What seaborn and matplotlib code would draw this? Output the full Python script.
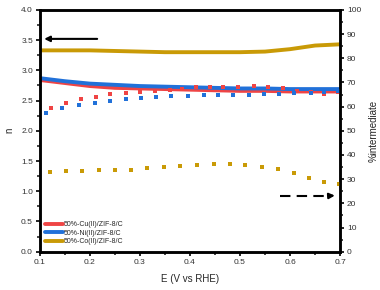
import numpy as np
import pandas as pd
import matplotlib
matplotlib.use("Agg")
import matplotlib.pyplot as plt
import seaborn as sns

# n (left axis, solid lines)
e_line = [0.10, 0.15, 0.20, 0.25, 0.30, 0.35, 0.40, 0.45, 0.50, 0.55, 0.60, 0.65, 0.70]
n_cu = [2.84, 2.79, 2.74, 2.71, 2.70, 2.69, 2.68, 2.67, 2.66, 2.66, 2.65, 2.65, 2.65]
n_ni = [2.87, 2.82, 2.78, 2.76, 2.74, 2.73, 2.72, 2.71, 2.70, 2.70, 2.69, 2.69, 2.69]
n_co = [3.33, 3.33, 3.33, 3.32, 3.31, 3.30, 3.30, 3.30, 3.30, 3.31, 3.35, 3.41, 3.43]

# %intermediate (right axis, dotted)
e_cu = [0.123, 0.153, 0.182, 0.212, 0.241, 0.272, 0.300, 0.330, 0.360, 0.385, 0.412,
        0.439, 0.465, 0.495, 0.527, 0.555, 0.585, 0.613, 0.642, 0.668, 0.696]
p_cu = [59.6, 61.4, 63.0, 64.1, 65.1, 65.5, 65.9, 66.3, 66.8, 67.3, 67.9,
        67.9, 68.0, 68.3, 68.4, 68.0, 67.6, 66.6, 66.1, 65.4, 66.2]
e_ni = [0.113, 0.145, 0.178, 0.210, 0.240, 0.273, 0.303, 0.333, 0.363, 0.397,
        0.427, 0.455, 0.485, 0.517, 0.548, 0.578, 0.608, 0.641, 0.668, 0.695]
p_ni = [57.3, 59.3, 60.6, 61.6, 62.4, 63.0, 63.5, 63.9, 64.3, 64.5,
        64.7, 64.7, 64.8, 65.0, 65.1, 65.4, 65.5, 65.5, 66.0, 66.3]
e_co = [0.120, 0.152, 0.185, 0.218, 0.250, 0.282, 0.315, 0.348, 0.380, 0.413,
        0.447, 0.479, 0.510, 0.543, 0.575, 0.607, 0.637, 0.668, 0.697]
p_co = [33.0, 33.3, 33.3, 33.7, 33.7, 33.9, 34.5, 34.9, 35.5, 35.7,
        36.2, 36.2, 35.7, 35.2, 34.2, 32.4, 30.5, 28.7, 28.1]

labels = ["50%-Cu(II)/ZIF-8/C", "50%-Ni(II)/ZIF-8/C", "50%-Co(II)/ZIF-8/C"]
colors = ["#EF4444", "#2171D9", "#C99A06"]

sns.set_style("ticks")
plt.rcParams['font.family'] = ['Liberation Sans', 'DejaVu Sans']

fig = plt.figure(figsize=(3.8, 2.9), dpi=100)
ax = fig.add_axes([0.105, 0.132, 0.79, 0.834])
ax2 = ax.twinx()

for n_vals, lab, c in zip([n_cu, n_ni, n_co], labels, colors):
    d = pd.DataFrame({"E": e_line, "n": n_vals})
    sns.lineplot(data=d, x="E", y="n", color=c, lw=2.8, ax=ax, label=lab)

# small flat rectangles, like the short dashes in the original
rect = [(-1.3, -1), (1.3, -1), (1.3, 1), (-1.3, 1), (-1.3, -1)]
for ee, pp, c in zip([e_cu, e_ni, e_co], [p_cu, p_ni, p_co], colors):
    d = pd.DataFrame({"E": ee, "p": pp})
    sns.scatterplot(data=d, x="E", y="p", color=c, marker=rect, s=12,
                    linewidth=0, ax=ax2)

# arrows
ax.annotate("", xy=(0.103, 3.52), xytext=(0.22, 3.52),
            arrowprops=dict(arrowstyle="-|>", color="black", lw=1.5,
                            mutation_scale=8))
ax2.plot([0.58, 0.675], [23, 23], color="black", lw=1.5, ls=(0, (5, 3)))
ax2.annotate("", xy=(0.695, 23.3), xytext=(0.672, 23),
             arrowprops=dict(arrowstyle="-|>", color="black", lw=1.5,
                             mutation_scale=8))

ax.set_xlim(0.1, 0.7)
ax.set_ylim(0, 4)
ax2.set_ylim(0, 100)
ax.set_xticks(np.arange(0.1, 0.71, 0.1))
ax.set_xticks(np.arange(0.15, 0.7, 0.1), minor=True)
ax.set_yticks(np.arange(0, 4.01, 0.5))
ax.set_yticks(np.arange(0.25, 4, 0.5), minor=True)
ax2.set_yticks(np.arange(0, 101, 10))
ax2.set_yticks(np.arange(5, 100, 10), minor=True)

ax.set_xlabel("E (V vs RHE)", fontsize=7, labelpad=6)
ax.set_ylabel("n", fontsize=7, labelpad=5)
ax2.set_ylabel("%intermediate", fontsize=7, labelpad=5)

for a in (ax, ax2):
    a.tick_params(which="major", labelsize=6, length=3, width=1.2,
                  colors="black", labelcolor="#333333", pad=2)
    a.tick_params(which="minor", length=2, width=1.2)
    for sp in a.spines.values():
        sp.set_visible(True)
        sp.set_linewidth(1.8)
        sp.set_color("black")

ax.legend(loc="lower left", bbox_to_anchor=(-0.005, 0.0), frameon=False,
          fontsize=5, handlelength=2.6, handletextpad=0.1, labelspacing=0.25,
          borderaxespad=0.5)

fig.savefig("out.png", dpi=100)
